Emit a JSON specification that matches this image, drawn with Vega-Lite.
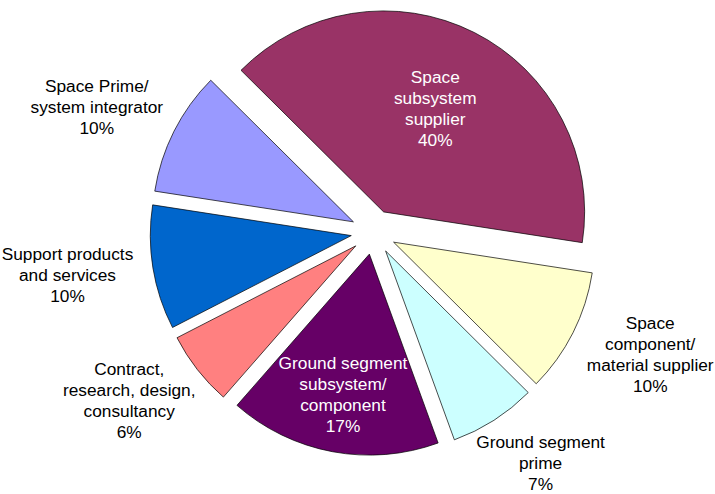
{
  "$schema": "https://vega.github.io/schema/vega-lite/v6.json",
  "width": 683,
  "height": 464,
  "autosize": {"type": "none"},
  "padding": {"left": 32, "top": 0, "right": 0, "bottom": 30},
  "background": "white",
  "config": {"view": {"stroke": null}},
  "data": {
    "values": [
      {"idx": 1, "cat": "Space subsystem supplier", "pct": 40, "label": "Space\nsubsystem\nsupplier\n40%"},
      {"idx": 2, "cat": "Space component/material supplier", "pct": 10, "label": "Space\ncomponent/\nmaterial supplier\n10%"},
      {"idx": 3, "cat": "Ground segment prime", "pct": 7, "label": "Ground segment\nprime\n7%"},
      {"idx": 4, "cat": "Ground segment subsystem/component", "pct": 17, "label": "Ground segment\nsubsystem/\ncomponent\n17%"},
      {"idx": 5, "cat": "Contract, research, design, consultancy", "pct": 6, "label": "Contract,\nresearch, design,\nconsultancy\n6%"},
      {"idx": 6, "cat": "Support products and services", "pct": 10, "label": "Support products\nand services\n10%"},
      {"idx": 7, "cat": "Space Prime/system integrator", "pct": 10, "label": "Space Prime/\nsystem integrator\n10%"}
    ]
  },
  "transform": [
    {"stack": "pct", "groupby": [], "sort": [{"field": "idx", "order": "ascending"}], "as": ["s0", "s1"]},
    {"calculate": "(datum.s0 + datum.s1) / 2", "as": "mid"}
  ],
  "layer": [
    {
      "mark": {
        "type": "arc",
        "outerRadius": 201,
        "stroke": "black",
        "strokeWidth": 0.7,
        "xOffset": {"expr": "22.5 * sin(-0.789 + PI * (datum.s0 + datum.s1) / 100)"},
        "yOffset": {"expr": "-22.5 * cos(-0.789 + PI * (datum.s0 + datum.s1) / 100)"}
      },
      "encoding": {
        "theta": {"field": "s0", "type": "quantitative", "scale": {"domain": [0, 100], "range": [-0.789, 5.4942]}},
        "theta2": {"field": "s1"},
        "color": {
          "field": "cat",
          "type": "nominal",
          "scale": {
            "domain": ["Space subsystem supplier", "Space component/material supplier", "Ground segment prime", "Ground segment subsystem/component", "Contract, research, design, consultancy", "Support products and services", "Space Prime/system integrator"],
            "range": ["#993366", "#FFFFCC", "#CCFFFF", "#660066", "#FF8080", "#0066CC", "#9999FF"]
          },
          "legend": null
        }
      }
    },
    {
      "transform": [{"filter": "datum.cat != 'Space subsystem supplier' && datum.cat != 'Ground segment subsystem/component'"}],
      "mark": {
        "type": "text",
        "font": "Liberation Sans",
        "fontSize": 17.3,
        "lineHeight": 21,
        "lineBreak": "\n",
        "align": "center",
        "baseline": "middle",
        "color": "black",
        "dx": {"expr": "35 * sin(-0.789 + 2 * PI * datum.mid / 100)"},
        "dy": {"expr": "-(length(split(datum.label, '\\n')) - 1) * 10.5"}
      },
      "encoding": {
        "theta": {"field": "mid", "type": "quantitative"},
        "radius": {"value": 275},
        "text": {"field": "label"}
      }
    },
    {
      "transform": [{"filter": "datum.cat == 'Space subsystem supplier'"}],
      "mark": {
        "type": "text",
        "font": "Liberation Sans",
        "fontSize": 17.3,
        "lineHeight": 21,
        "lineBreak": "\n",
        "align": "center",
        "baseline": "middle",
        "color": "white",
        "dy": -31.5
      },
      "encoding": {
        "theta": {"field": "mid", "type": "quantitative"},
        "radius": {"value": 137},
        "text": {"field": "label"}
      }
    },
    {
      "transform": [{"filter": "datum.cat == 'Ground segment subsystem/component'"}],
      "mark": {
        "type": "text",
        "font": "Liberation Sans",
        "fontSize": 17.3,
        "lineHeight": 21,
        "lineBreak": "\n",
        "align": "center",
        "baseline": "middle",
        "color": "white",
        "dy": -31.5
      },
      "encoding": {
        "theta": {"field": "mid", "type": "quantitative"},
        "radius": {"value": 166},
        "text": {"field": "label"}
      }
    }
  ]
}
